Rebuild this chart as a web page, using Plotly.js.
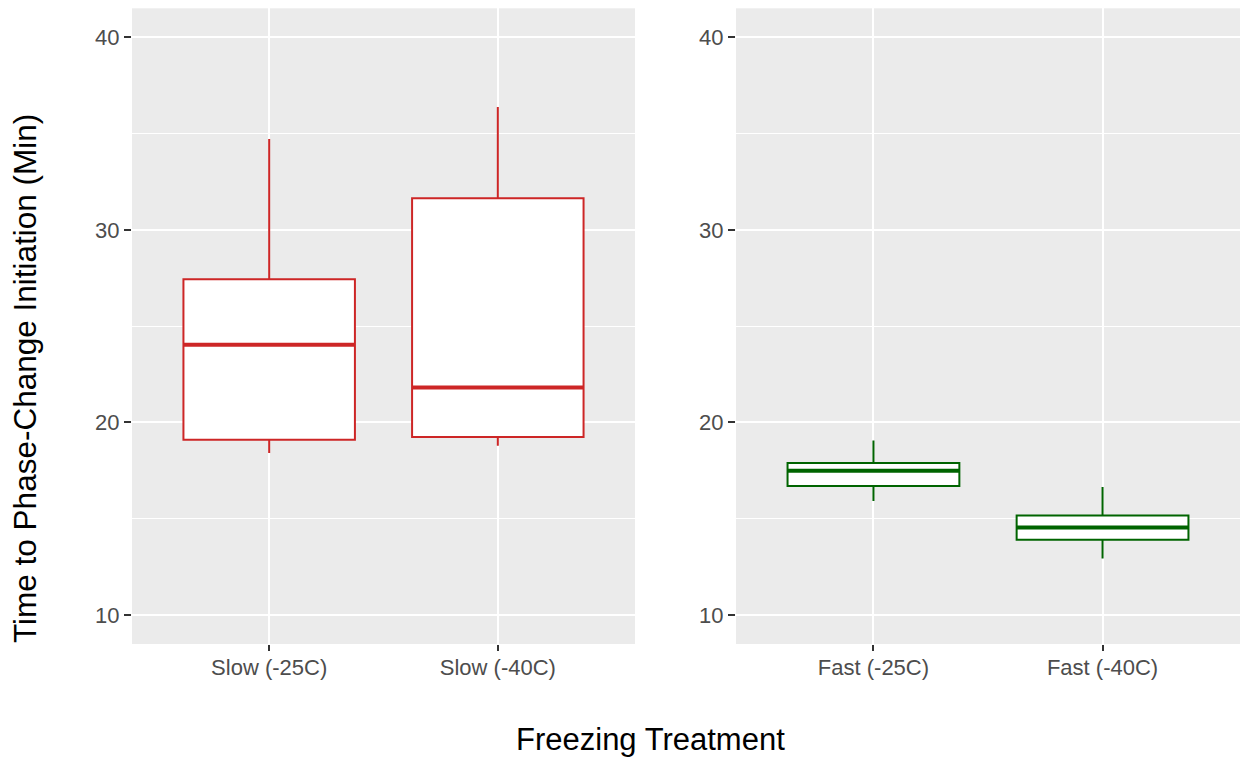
<!DOCTYPE html>
<html>
<head>
<meta charset="utf-8">
<script src="https://cdn.plot.ly/plotly-3.0.1.min.js"></script>
<style>
  html, body { margin: 0; padding: 0; background: #fff; }
  #chart { width: 1243px; height: 759px; }
</style>
</head>
<body>
<div id="chart"></div>
<script>
// Slow freezing treatments (box statistics, minutes)
const slowCategories = ['Slow (-25C)', 'Slow (-40C)'];
const slowLower  = [18.41, 18.79];
const slowQ1     = [19.10, 19.24];
const slowMedian = [24.03, 21.82];
const slowQ3     = [27.44, 31.64];
const slowUpper  = [34.71, 36.37];

// Fast freezing treatments (box statistics, minutes)
const fastCategories = ['Fast (-25C)', 'Fast (-40C)'];
const fastLower  = [15.92, 12.94];
const fastQ1     = [16.70, 13.91];
const fastMedian = [17.49, 14.55];
const fastQ3     = [17.89, 15.17];
const fastUpper  = [19.07, 16.65];

const yTicks = [10, 20, 30, 40];
const yMinor = [15, 25, 35];

const slowColor = '#CD2626';
const fastColor = '#006400';
const boxWidth = 0.75;

const positions = cats => cats.map((_, i) => i + 1);

function boxTrace(cats, lo, q1, med, q3, hi, color, xa, ya) {
  return {
    type: 'box',
    x: positions(cats),
    lowerfence: lo, q1: q1, median: med, q3: q3, upperfence: hi,
    width: boxWidth,
    whiskerwidth: 0,
    boxpoints: false,
    fillcolor: '#FFFFFF',
    line: { color: color, width: 2 },
    xaxis: xa, yaxis: ya,
    showlegend: false,
    hoverinfo: 'skip'
  };
}

// thicker median bar drawn over each box
function medianTrace(cats, med, color, xa, ya) {
  const xs = [], ys = [];
  positions(cats).forEach((p, i) => {
    xs.push(p - boxWidth / 2, p + boxWidth / 2, null);
    ys.push(med[i], med[i], null);
  });
  return {
    type: 'scatter', mode: 'lines',
    x: xs, y: ys,
    line: { color: color, width: 4 },
    xaxis: xa, yaxis: ya,
    showlegend: false, hoverinfo: 'skip'
  };
}

const data = [
  boxTrace(slowCategories, slowLower, slowQ1, slowMedian, slowQ3, slowUpper, slowColor, 'x', 'y'),
  medianTrace(slowCategories, slowMedian, slowColor, 'x', 'y'),
  boxTrace(fastCategories, fastLower, fastQ1, fastMedian, fastQ3, fastUpper, fastColor, 'x2', 'y2'),
  medianTrace(fastCategories, fastMedian, fastColor, 'x2', 'y2')
];

const W = 1243, H = 759;
const tickFont = { family: 'Liberation Sans, Arial, sans-serif', size: 22, color: '#4D4D4D' };

function xAxis(cats, domain, anchor) {
  return {
    domain: domain, anchor: anchor,
    range: [0.4, cats.length + 0.6],
    tickvals: positions(cats), ticktext: cats,
    ticks: 'outside', ticklen: 6, tickwidth: 2, tickcolor: '#333333',
    tickfont: tickFont,
    ticklabelstandoff: -2,
    showgrid: true, gridcolor: '#FFFFFF', gridwidth: 2,
    zeroline: false, showline: false, fixedrange: true
  };
}
function yAxis(domain, anchor) {
  return {
    domain: domain, anchor: anchor,
    range: [8.5, 41.5],
    tickvals: yTicks,
    ticks: 'outside', ticklen: 7, tickwidth: 2, tickcolor: '#333333',
    tickfont: tickFont,
    showgrid: true, gridcolor: '#FFFFFF', gridwidth: 2,
    minor: { tickvals: yMinor, showgrid: true, gridcolor: '#FFFFFF', gridwidth: 1, ticks: '' },
    zeroline: false, showline: false, fixedrange: true
  };
}

const yDom = [(H - 644) / H, (H - 8.3) / H];

const layout = {
  width: W, height: H,
  margin: { l: 0, r: 0, t: 0, b: 0 },
  paper_bgcolor: '#FFFFFF',
  plot_bgcolor: '#EBEBEB',
  font: { family: 'Liberation Sans, Arial, sans-serif' },
  xaxis: xAxis(slowCategories, [132 / W, 635 / W], 'y'),
  yaxis: yAxis(yDom, 'x'),
  xaxis2: xAxis(fastCategories, [736 / W, 1240 / W], 'y2'),
  yaxis2: yAxis(yDom, 'x2'),
  annotations: [
    {
      text: 'Freezing Treatment',
      xref: 'paper', yref: 'paper',
      x: 650 / W, y: 0,
      xanchor: 'center', yanchor: 'bottom',
      showarrow: false,
      font: { size: 31, color: '#000000' }
    },
    {
      text: 'Time to Phase-Change Initiation (Min)',
      xref: 'paper', yref: 'paper',
      x: 25 / W, y: (H - 379) / H,
      xanchor: 'center', yanchor: 'middle',
      textangle: -90,
      showarrow: false,
      font: { size: 31.5, color: '#000000' }
    }
  ]
};

Plotly.newPlot('chart', data, layout, { displayModeBar: false, staticPlot: true });
</script>
</body>
</html>
